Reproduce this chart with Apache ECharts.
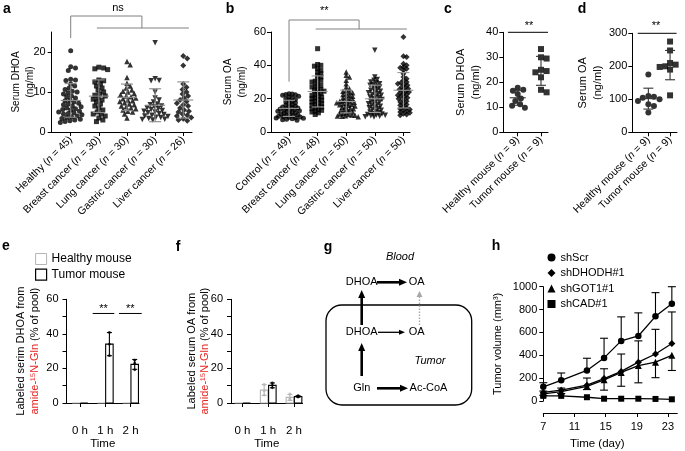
<!DOCTYPE html>
<html><head><meta charset="utf-8">
<script src="https://cdn.jsdelivr.net/npm/echarts@6/dist/echarts.min.js"></script>
<style>html,body{margin:0;padding:0;background:#fff}#c{width:685px;height:451px}</style>
</head><body><div id="c"></div>
<script>
// ---------------- DATA ----------------
// Panel a: serum DHOA (ng/ml), human cohorts
const aCats = ['Healthy', 'Breast cancer', 'Lung cancer', 'Gastric cancer', 'Liver cancer'];
const aN = [45, 30, 30, 30, 26];
const aHealthy = [20.3,16.3,16.0,15.4,13.2,13.0,12.9,12.0,11.5,11.0,10.6,10.2,10.0,9.8,9.5,9.0,8.8,8.5,8.0,7.8,7.5,7.2,7.0,6.8,6.5,6.3,6.0,5.8,5.6,5.5,5.2,5.0,4.8,4.6,4.5,4.3,4.0,3.8,3.6,3.4,3.2,3.0,2.8,2.6,2.4];
const aBreast = [16.2,16.0,15.8,15.6,13.0,12.8,12.5,12.0,11.5,11.0,10.5,10.0,9.5,9.2,9.0,8.5,8.2,8.0,7.5,7.0,6.5,6.0,5.5,5.0,4.5,4.5,4.0,3.5,3.0,2.6];
const aLung = [17.6,16.8,13.6,12.2,11.5,11.0,10.5,10.2,10.0,9.6,9.3,9.0,8.8,8.5,8.3,8.0,7.8,7.6,7.3,7.0,6.8,6.5,6.3,6.0,5.8,5.5,5.2,5.0,4.5,3.5];
const aGastric = [22.3,13.3,12.9,12.8,10.0,8.5,8.0,7.5,7.0,6.8,6.5,6.3,6.0,5.8,5.6,5.4,5.2,5.0,4.8,4.6,4.4,4.2,4.0,3.9,3.7,3.6,3.4,3.2,3.1,3.0];
const aLiver = [19.0,18.4,16.6,12.0,11.2,10.6,10.0,9.5,9.0,8.5,8.0,7.6,7.2,6.8,6.5,6.0,5.5,5.2,5.0,4.5,4.2,4.0,3.6,3.3,3.0,2.8];
const aTicks = [0, 10, 20];

// Panel b: serum OA (ng/ml), human cohorts
const bCats = ['Control', 'Breast cancer', 'Lung cancer', 'Gastric cancer', 'Liver cancer'];
const bN = [49, 48, 50, 50, 50];
const bControl = [23,22.8,22.5,22.3,22,21.5,21,20.5,20,19.5,19,18.5,18,17.5,17,16.5,16,15.5,15.2,15,14.7,14.4,14.1,13.8,13.5,13.2,13,12.7,12.4,12.1,11.8,11.5,11.2,11,10.7,10.4,10.1,9.8,9.5,9.2,9,8.8,8.6,8.4,8.2,8,7.7,7.4,7.0];
const bBreast = [50,40.5,40,39.5,38,37,36,35,34,33,32,31,30.5,30,29,28,27.5,27,26,25.5,25,24.5,24,23,22.5,22,21.5,21,20.5,20,19.5,19,18.5,18,17.5,17,16.5,16,15.5,15,14.5,14,13.5,13,12.5,12,11.5,10.5];
const bLung = [36,34,33,31,29,27,26,25,24.5,24,23.5,23,22.5,22,21.5,21,20.5,20,19.5,19,18.7,18.4,18.1,17.8,17.5,17.2,16.9,16.6,16.3,16,15.6,15.2,14.8,14.4,14,13.6,13.2,12.8,12.4,12,11.6,11.2,10.8,10.5,10.2,10,9.8,9.6,9.4,9.2];
const bGastric = [49,33,31.5,31,30,29.5,29,28.5,28,27.5,27,26,25.5,25,24.5,24,23.5,23,22.5,22,21.5,21,20.5,20,19.5,19,18.5,18,17.5,17,16.5,16,15.5,15,14.5,14,13.5,13,12.5,12,11.5,11,10.8,10.5,10.2,10,9.8,9.5,9.2,9];
const bLiver = [57,45.5,45,41,40,39,38.5,38,37,35,33,32,31,30,29.5,29,28.5,28,27,26.5,26,25.5,25,24.5,24,23.5,23,22.5,22,21.5,21,20.5,20,19,18.5,18,17,16.5,16,15,14.5,14,13.5,13,12.5,12,11.5,11,10.5,10];
const bTicks = [0, 20, 40, 60];

// Panels c, d: mice
const mouseCats = ['Healthy mouse', 'Tumor mouse'];
const mouseN = [9, 9];
const cHealthy = [17.8,17.0,16.6,15.3,13.5,12.5,11.2,10.6,9.8];
const cTumor = [33.3,30.0,29.5,25.0,24.5,24.0,22.0,17.0,16.0];
const cTicks = [0, 10, 20, 30, 40];
const dHealthy = [175,110,108,105,100,95,85,80,60];
const dTumor = [275,248,210,205,200,198,195,190,112];
const dTicks = [0, 100, 200, 300];

// Panels e, f: labeled fraction (% of pool), per time point (3 mice each)
const efTimes = ['0 h', '1 h', '2 h'];
const eHealthyPts = [[0,0,0],[0,0,0],[0,0,0]];
const eTumorPts = [[0,0,0],[40.8,34.0,27.4],[24.8,23.0,19.2]];
const fHealthyPts = [[0,0,0],[10.8,7.0,4.6],[5.2,2.5,2.0]];
const fTumorPts = [[0,0,0],[11.6,10.2,8.8],[4.2,3.8,3.4]];
const efTicks = [0,10,20,30,40,50,60];
const efLabels = [0,20,40,60];

// Panel h: tumor volume (mm3) over time (day)
const hDays = [7, 9.3, 12.6, 14.8, 17, 19.2, 21.4, 23.5];
const hScr = [124,181,267,377,526,569,741,851];
const hScrErr = [36,64,107,172,210,202,207,149];
const hDHODH = [75,95,138,196,259,340,411,503];
const hDHODHErr = [12,18,63,86,152,186,216,276];
const hGOT1 = [62,82,128,185,250,310,340,400];
const hGOT1Err = [12,17,28,90,121,151,136,133];
const hCAD = [45,45,33,20,20,20,18,15];
const hXTicks = [7, 11, 15, 19, 23];

// ---------------- HELPERS ----------------
const FONT = '"Liberation Sans", Arial, Helvetica, sans-serif';
const mean = a => a.reduce((s, v) => s + v, 0) / a.length;
const sd = a => { const m = mean(a); return Math.sqrt(a.reduce((s, v) => s + (v - m) * (v - m), 0) / (a.length - 1)); };

// beeswarm layout (pixel offsets) computed from the values
function swarm(vals, ppu, d) {
  const idx = vals.map((v, i) => i).sort((p, q) => vals[q] - vals[p]);
  const placed = []; const off = new Array(vals.length).fill(0);
  idx.forEach(i => {
    const y = vals[i] * ppu;
    for (let k = 0; k < 400; k++) {
      const x = (k % 2 ? 1 : -1) * Math.ceil(k / 2) * 0.8;
      if (placed.every(p => Math.abs(p.y - y) >= d || (p.x - x) * (p.x - x) + (p.y - y) * (p.y - y) >= d * d)) {
        placed.push({ x, y }); off[i] = x; break;
      }
    }
  });
  return off;
}

const GRID = [
  { left: 51.7, top: 32, width: 140.3, height: 100 },    // a
  { left: 271, top: 32, width: 139, height: 100 },        // b
  { left: 503.3, top: 32.3, width: 44.7, height: 100 },   // c
  { left: 632.3, top: 33.3, width: 44.7, height: 99 },    // d
  { left: 66.5, top: 299.3, width: 72.5, height: 112.7 }, // e
  { left: 231, top: 299.3, width: 71.5, height: 112.7 },  // f
  { left: 543.3, top: 286.7, width: 134, height: 116 }    // h
];
const XR = [[0.325, 5.31], [0.37, 5.23], [0.382, 2.3], [0.26, 2.32], [-0.534, 2.332], [-0.447, 2.33], [7, 24.2]];
const YR = [[0, 25], [0, 60], [0, 40], [0, 300], [0, 60], [0, 60], [0, 1000]];

const BLACK = '#000';
function catFormatter(cats, ns) {
  return v => { const i = Math.round(v) - 1; return '{t|' + cats[i] + ' (}{i|n}{t| = ' + ns[i] + ')}'; };
}
const catRich = { t: { fontSize: 10.5, fontFamily: FONT, color: BLACK }, i: { fontSize: 10.5, fontFamily: FONT, fontStyle: 'italic', color: BLACK } };

function xCatAxis(gi, cats, ns) {
  const vals = cats.map((c, i) => i + 1);
  return {
    type: 'value', gridIndex: gi, min: XR[gi][0], max: XR[gi][1], splitLine: { show: false },
    axisLine: { show: true, onZero: false, lineStyle: { color: BLACK, width: 1 } },
    axisTick: { show: true, length: 4, customValues: vals, lineStyle: { color: BLACK } },
    axisLabel: { customValues: vals, rotate: 45, margin: 6, formatter: catFormatter(cats, ns), rich: catRich }
  };
}
function yAxis(gi, ticks, labels, name, nameGap, nameSize, margin) {
  return {
    type: 'value', gridIndex: gi, min: YR[gi][0], max: YR[gi][1], splitLine: { show: false },
    axisLine: { show: true, onZero: false, lineStyle: { color: BLACK, width: 1 } },
    axisTick: { show: true, length: 4, customValues: ticks, lineStyle: { color: BLACK } },
    axisLabel: { customValues: labels, fontSize: 11, color: BLACK, margin: margin, fontFamily: FONT },
    name: name, nameLocation: 'middle', nameRotate: 90, nameGap: nameGap, nameMoveOverlap: false,
    nameTextStyle: { fontSize: nameSize, color: BLACK, lineHeight: nameSize + 4, fontFamily: FONT, align: 'center' }
  };
}

function errRender(hw, cw, color, lw) {
  return function (params, api) {
    const x = api.value(0), m = api.value(1), s = api.value(2);
    const c = api.coord([x, m]), t = api.coord([x, m + s]), b = api.coord([x, m - s]);
    const st = { stroke: color, lineWidth: lw };
    return { type: 'group', children: [
      { type: 'line', shape: { x1: c[0] - hw, y1: c[1], x2: c[0] + hw, y2: c[1] }, style: st },
      { type: 'line', shape: { x1: t[0], y1: t[1], x2: b[0], y2: b[1] }, style: st },
      { type: 'line', shape: { x1: t[0] - cw, y1: t[1], x2: t[0] + cw, y2: t[1] }, style: st },
      { type: 'line', shape: { x1: b[0] - cw, y1: b[1], x2: b[0] + cw, y2: b[1] }, style: st }
    ] };
  };
}

function swarmSeries(gi, groups, symbols, rots, sizes, dist, lineColor, hw, cw) {
  const g = GRID[gi];
  const ppuY = g.height / (YR[gi][1] - YR[gi][0]);
  const ppuX = g.width / (XR[gi][1] - XR[gi][0]);
  const out = [];
  groups.forEach((vals, k) => {
    const off = swarm(vals, ppuY, dist);
    out.push({ type: 'scatter', xAxisIndex: gi, yAxisIndex: gi, symbol: symbols[k], symbolRotate: rots[k],
      symbolSize: sizes[k], itemStyle: { color: BLACK }, silent: true, z: 2,
      data: vals.map((v, i) => [k + 1 + off[i] / ppuX, v]) });
  });
  out.push({ type: 'custom', xAxisIndex: gi, yAxisIndex: gi, silent: true, z: 3,
    renderItem: errRender(hw, cw, lineColor, 1.1), encode: { x: 0, y: 1 },
    data: groups.map((v, k) => [k + 1, mean(v), sd(v)]) });
  return out;
}

function barRender(dx, color, bw) {
  return function (params, api) {
    const t = api.value(0), m = api.value(1), s = api.value(2);
    const top = api.coord([t, m]), base = api.coord([t, 0]);
    const x = top[0] + dx;
    const ch = [{ type: 'rect', shape: { x: x - bw / 2, y: top[1], width: bw, height: base[1] - top[1] },
      style: { fill: '#fff', stroke: color, lineWidth: 1.1 } }];
    if (s > 0) {
      const hi = api.coord([t, m + s]), lo = api.coord([t, m - s]);
      const st = { stroke: color, lineWidth: 1.1 };
      ch.push({ type: 'line', shape: { x1: x, y1: hi[1], x2: x, y2: lo[1] }, style: st });
      ch.push({ type: 'line', shape: { x1: x - 2.5, y1: hi[1], x2: x + 2.5, y2: hi[1] }, style: st });
      ch.push({ type: 'line', shape: { x1: x - 2.5, y1: lo[1], x2: x + 2.5, y2: lo[1] }, style: st });
    }
    return { type: 'group', children: ch };
  };
}
function barSeries(gi, name, pts, dx, color) {
  const dots = [];
  pts.forEach((p, t) => p.forEach(v => dots.push([t, v])));
  return [
    { type: 'custom', name: name, xAxisIndex: gi, yAxisIndex: gi, silent: true, z: 2, itemStyle: { color: color },
      renderItem: barRender(dx, color, 7.5), encode: { x: 0, y: 1 },
      data: pts.map((p, t) => [t, mean(p), sd(p)]) },
    { type: 'scatter', name: name, xAxisIndex: gi, yAxisIndex: gi, silent: true, z: 3, symbol: 'circle',
      symbolSize: 2.8, symbolOffset: [dx, 0], itemStyle: { color: color }, data: dots.filter(d => d[1] > 0) }
  ];
}

function timeXAxis(gi) {
  const vals = efTimes.map((t, i) => i);
  return {
    type: 'value', gridIndex: gi, min: XR[gi][0], max: XR[gi][1], splitLine: { show: false },
    axisLine: { show: true, onZero: false, lineStyle: { color: BLACK } },
    axisTick: { show: true, length: 4, customValues: vals, lineStyle: { color: BLACK } },
    axisLabel: { customValues: vals, margin: 22, fontSize: 11.5, color: BLACK, fontFamily: FONT, formatter: v => efTimes[Math.round(v)] },
    name: 'Time', nameLocation: 'middle', nameGap: 35, nameMoveOverlap: false,
    nameTextStyle: { fontSize: 11.5, color: BLACK, fontFamily: FONT }
  };
}
const efName = (first) => '{k|' + first + '}\n{r|amide-\u00b9\u2075N-Gln}{k| (% of pool)}';
const efRich = { k: { fontSize: 11, color: BLACK, fontFamily: FONT }, r: { fontSize: 11, color: '#e8231f', fontFamily: FONT } };

function hErrRender(params, api) {
  const x = api.value(0), m = api.value(1), e = api.value(2), dir = api.value(3);
  const c = api.coord([x, m]), end = api.coord([x, m + dir * e]);
  const st = { stroke: BLACK, lineWidth: 1.1 };
  return { type: 'group', children: [
    { type: 'line', shape: { x1: c[0], y1: c[1], x2: end[0], y2: end[1] }, style: st },
    { type: 'line', shape: { x1: end[0] - 4, y1: end[1], x2: end[0] + 4, y2: end[1] }, style: st }
  ] };
}

// ---------------- OPTION ----------------
const chart = echarts.init(document.getElementById('c'));
const series = [];
series.push(...swarmSeries(0, [aHealthy, aBreast, aLung, aGastric, aLiver],
  ['circle', 'rect', 'triangle', 'triangle', 'diamond'], [0, 0, 0, 180, 0], [5, 5, 5.5, 5.5, 6], 4.2, '#8a8a8a', 10, 6));
series.push(...swarmSeries(1, [bControl, bBreast, bLung, bGastric, bLiver],
  ['circle', 'rect', 'triangle', 'triangle', 'diamond'], [0, 0, 0, 180, 0], [5, 5, 5.5, 5.5, 6], 3.0, '#9a9a9a', 10, 6));
series.push(...swarmSeries(2, [cHealthy, cTumor], ['circle', 'rect'], [0, 0], [6, 6], 5.5, '#333', 8, 5));
series.push(...swarmSeries(3, [dHealthy, dTumor], ['circle', 'rect'], [0, 0], [6, 6], 5.5, '#333', 8, 5));
series.push(...barSeries(4, 'Healthy mouse', eHealthyPts, -4.1, '#b5b5b5'));
series.push(...barSeries(4, 'Tumor mouse', eTumorPts, 4.1, BLACK));
series.push(...barSeries(5, 'Healthy mouse', fHealthyPts, -4.1, '#b5b5b5'));
series.push(...barSeries(5, 'Tumor mouse', fTumorPts, 4.1, BLACK));

const hSets = [
  { name: 'shScr', vals: hScr, err: hScrErr, dir: 1, sym: 'circle', size: 6.5 },
  { name: 'shDHODH#1', vals: hDHODH, err: hDHODHErr, dir: 1, sym: 'diamond', size: 7 },
  { name: 'shGOT1#1', vals: hGOT1, err: hGOT1Err, dir: -1, sym: 'triangle', size: 7 },
  { name: 'shCAD#1', vals: hCAD, err: null, dir: 1, sym: 'rect', size: 6 }
];
hSets.forEach(s => {
  series.push({ type: 'line', name: s.name, xAxisIndex: 6, yAxisIndex: 6, symbol: s.sym, symbolSize: s.size, showAllSymbol: true,
    lineStyle: { color: BLACK, width: 1.3 }, itemStyle: { color: BLACK }, silent: true, z: 3,
    data: hDays.map((d, i) => [d, s.vals[i]]) });
  if (s.err) series.push({ type: 'custom', xAxisIndex: 6, yAxisIndex: 6, silent: true, z: 2, renderItem: hErrRender,
    encode: { x: 0, y: 1 }, data: hDays.map((d, i) => [d, s.vals[i], s.err[i], s.dir]) });
});

const option = {
  animation: false,
  backgroundColor: '#fff',
  textStyle: { fontFamily: FONT },
  grid: GRID.map(g => Object.assign({ containLabel: false }, g)),
  xAxis: [
    xCatAxis(0, aCats, aN), xCatAxis(1, bCats, bN), xCatAxis(2, mouseCats, mouseN), xCatAxis(3, mouseCats, mouseN),
    timeXAxis(4), timeXAxis(5),
    { type: 'value', gridIndex: 6, min: XR[6][0], max: XR[6][1], offset: 12, splitLine: { show: false },
      axisLine: { show: true, onZero: false, lineStyle: { color: BLACK } },
      axisTick: { show: true, length: 4, customValues: hXTicks, lineStyle: { color: BLACK } },
      axisLabel: { customValues: hXTicks, margin: 8, fontSize: 11, color: BLACK, fontFamily: FONT },
      name: 'Time (day)', nameLocation: 'middle', nameGap: 25, nameMoveOverlap: false,
      nameTextStyle: { fontSize: 11.5, color: BLACK, fontFamily: FONT, padding: [0, 26, 0, 0] } }
  ],
  yAxis: [
    yAxis(0, aTicks, aTicks, 'Serum DHOA\n(ng/ml)', 14, 10, 6),
    yAxis(1, bTicks, bTicks, 'Serum OA\n(ng/ml)', 22, 10, 5),
    yAxis(2, cTicks, cTicks, 'Serum DHOA\n(ng/ml)', 20, 11, 5),
    yAxis(3, dTicks, dTicks, 'Serum OA\n(ng/ml)', 27, 11, 5),
    Object.assign(yAxis(4, efTicks, efLabels, efName('Labeled serim DHOA from'), 25, 11, 8), { nameTextStyle: { rich: efRich, lineHeight: 14, align: 'center' } }),
    Object.assign(yAxis(5, efTicks, efLabels, efName('Labeled serum OA from'), 20, 11, 8), { nameTextStyle: { rich: efRich, lineHeight: 12.5, align: 'center' } }),
    Object.assign(yAxis(6, null, null, 'Tumor volume (mm\u00b3)', 38, 11, 6), {
      axisTick: { show: true, length: 4, lineStyle: { color: BLACK } },
      axisLabel: { fontSize: 11, color: BLACK, margin: 6, fontFamily: FONT, formatter: v => String(v) }, interval: 200 })
  ],
  legend: [
    { left: 35, top: 253, padding: 0, orient: 'vertical', itemGap: 3.5, itemWidth: 11, itemHeight: 11, selectedMode: false,
      textStyle: { fontSize: 12, color: BLACK, fontFamily: FONT },
      data: [
        { name: 'Healthy mouse', icon: 'rect', itemStyle: { color: '#fff', borderColor: '#b5b5b5', borderWidth: 1 } },
        { name: 'Tumor mouse', icon: 'rect', itemStyle: { color: '#fff', borderColor: '#000', borderWidth: 1.2 } }
      ] },
    { left: 547.5, top: 252, padding: 0, orient: 'vertical', itemGap: 4.5, itemWidth: 8, itemHeight: 8, selectedMode: false,
      textStyle: { fontSize: 11, color: BLACK, fontFamily: FONT },
      data: [
        { name: 'shScr', icon: 'circle' }, { name: 'shDHODH#1', icon: 'diamond' },
        { name: 'shGOT1#1', icon: 'triangle' }, { name: 'shCAD#1', icon: 'rect' }
      ] }
  ],
  series: series
};
chart.setOption(option);

// ---------------- ANNOTATIONS & DIAGRAM ----------------
const P = (g, x, y) => chart.convertToPixel({ gridIndex: g }, [x, y]);
function seg(g, x1, y1, x2, y2, color) {
  const p = P(g, x1, y1), q = P(g, x2, y2);
  return { type: 'line', silent: true, shape: { x1: p[0], y1: p[1], x2: q[0], y2: q[1] }, style: { stroke: color, lineWidth: 1 } };
}
function txt(x, y, s, size, opts) {
  return { type: 'text', silent: true, x: x, y: y,
    style: Object.assign({ text: s, fontSize: size, fontFamily: FONT, fill: BLACK, align: 'center', verticalAlign: 'middle' }, opts || {}) };
}
function dtxt(g, x, y, s, size) { const p = P(g, x, y); return txt(p[0], p[1], s, size); }
function arrow(x1, y1, x2, y2, lw, color, hl, hw, dash) {
  const L = Math.hypot(x2 - x1, y2 - y1), ux = (x2 - x1) / L, uy = (y2 - y1) / L;
  const bx = x2 - ux * hl, by = y2 - uy * hl, nx = -uy, ny = ux;
  return { type: 'group', silent: true, children: [
    { type: 'line', shape: { x1: x1, y1: y1, x2: bx, y2: by }, style: { stroke: color, lineWidth: lw, lineDash: dash || null } },
    { type: 'polygon', shape: { points: [[x2, y2], [bx + nx * hw / 2, by + ny * hw / 2], [bx - nx * hw / 2, by - ny * hw / 2]] }, style: { fill: color } }
  ] };
}
const GR = '#808080';
const gfx = [
  // panel letters
  txt(7, 9, 'a', 14, { fontWeight: 'bold' }), txt(230, 9, 'b', 14, { fontWeight: 'bold' }),
  txt(448, 9, 'c', 14, { fontWeight: 'bold' }), txt(582, 9, 'd', 14, { fontWeight: 'bold' }),
  txt(6, 246, 'e', 14, { fontWeight: 'bold' }), txt(178, 247, 'f', 14, { fontWeight: 'bold' }),
  txt(328, 247, 'g', 14, { fontWeight: 'bold' }), txt(496, 246, 'h', 14, { fontWeight: 'bold' }),
  // a brackets
  seg(0, 1, 23.5, 1, 29, GR), seg(0, 1, 29, 3.53, 29, GR), seg(0, 3.53, 29, 3.53, 26, GR), seg(0, 1.93, 26, 5.2, 26, GR),
  dtxt(0, 2.68, 30.9, 'ns', 11),
  // b brackets
  seg(1, 1, 30.2, 1, 67.2, GR), seg(1, 1, 67.2, 3.45, 67.2, GR), seg(1, 3.45, 67.2, 3.45, 61.8, GR), seg(1, 1.93, 61.8, 5.12, 61.8, GR),
  dtxt(1, 2.23, 72.4, '**', 11),
  // c, d
  seg(2, 0.58, 40, 2.3, 40, BLACK), dtxt(2, 1.485, 42.6, '**', 11),
  seg(3, 0.51, 300, 2.3, 300, BLACK), dtxt(3, 1.35, 322, '**', 11),
  // e
  seg(4, 0.502, 51.8, 1.355, 51.8, BLACK), dtxt(4, 0.93, 54.5, '**', 11),
  seg(4, 1.541, 51.8, 2.44, 51.8, BLACK), dtxt(4, 1.99, 54.5, '**', 11),
  // g diagram
  txt(400, 257, 'Blood', 11, { fontStyle: 'italic' }),
  txt(361.7, 282.3, 'DHOA', 11), txt(416.7, 282.3, 'OA', 11),
  arrow(377, 282.3, 407, 282.3, 2.6, BLACK, 8, 7),
  { type: 'rect', silent: true, shape: { x: 326, y: 305, width: 145.7, height: 100, r: 16 }, style: { fill: null, stroke: BLACK, lineWidth: 1.3 } },
  arrow(361.7, 325, 361.7, 290, 2.6, BLACK, 8, 7),
  arrow(419.5, 325, 419.5, 291, 1.4, '#a8a8a8', 6, 6, [1.5, 1.5]),
  txt(361.7, 332.3, 'DHOA', 11), txt(416.7, 332.3, 'OA', 11),
  arrow(378, 332.3, 405, 332.3, 1.3, BLACK, 6, 5),
  arrow(361.7, 376, 361.7, 343, 2.6, BLACK, 8, 7),
  txt(430, 361.3, 'Tumor', 11, { fontStyle: 'italic' }),
  txt(361.7, 388.3, 'Gln', 11),
  arrow(377, 388.3, 408, 388.3, 2.6, BLACK, 8, 7),
  txt(428.5, 388.3, 'Ac-CoA', 11)
];
chart.setOption({ graphic: gfx });
</script>
</body></html>
